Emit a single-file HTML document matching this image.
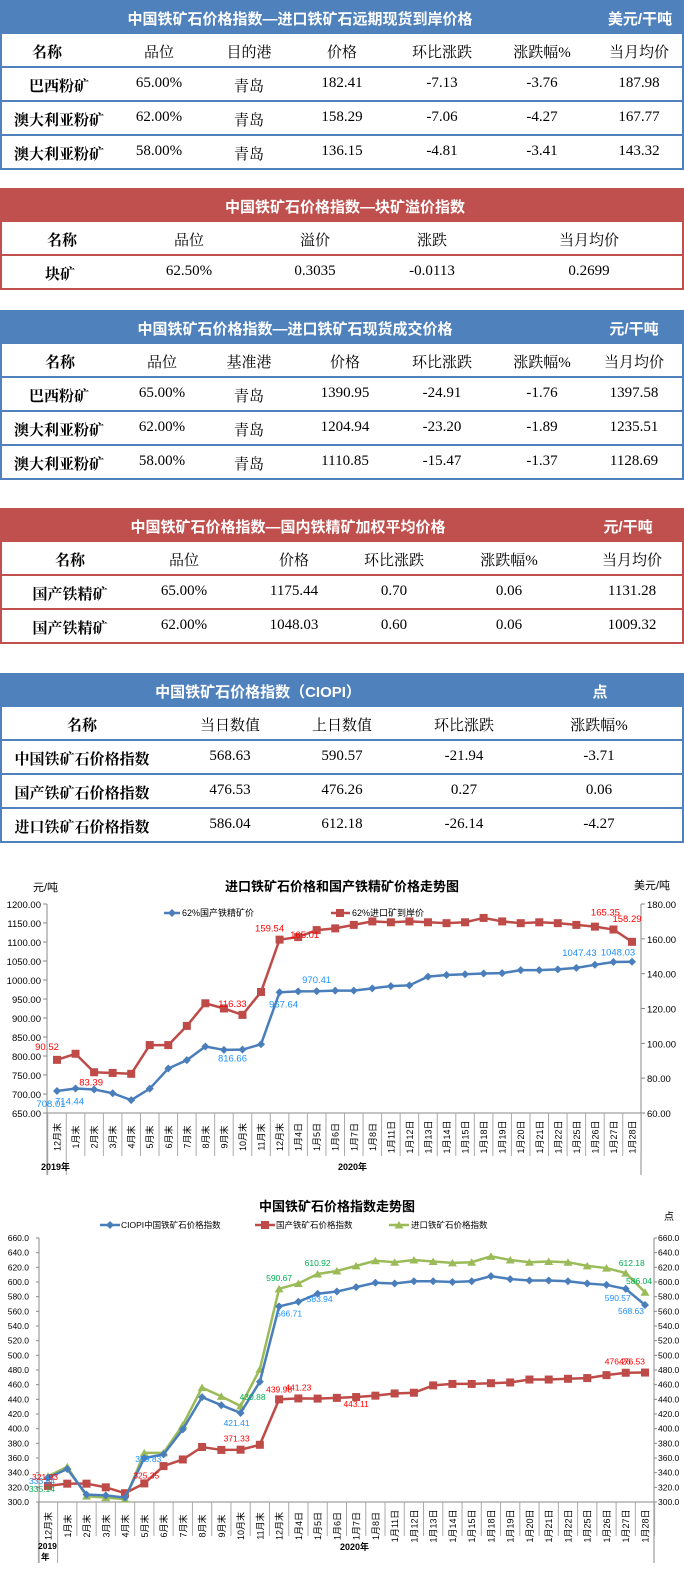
<!DOCTYPE html>
<html><head><meta charset="utf-8">
<style>
body{margin:0;width:684px;height:1573px;background:#fff;position:relative;overflow:hidden;font-family:"Liberation Serif","Noto Serif CJK SC",serif;}
.sec{position:absolute;left:0;width:684px;}
.bar{position:absolute;left:0;width:684px;height:34px;color:#fff;font-family:"Liberation Sans","Noto Sans CJK SC",sans-serif;font-weight:bold;font-size:15px;}
.blue{background:#4f81bd}.red{background:#c0504d}
.bar span{position:absolute;top:8px;white-space:nowrap;transform:translateX(-50%)}
.row{position:absolute;left:0;width:680px;height:32px;border-left:2px solid;border-right:2px solid;border-bottom:2px solid;}
.rb .row{border-color:#4f81bd}.rr .row{border-color:#c0504d}
.row span{position:absolute;top:7px;transform:translateX(-50%);white-space:nowrap;font-size:15px;color:#000}
.row span.n{font-weight:bold}
svg text{font-family:"Liberation Sans","Noto Sans CJK SC",sans-serif}
</style></head><body>

<!-- Table 1 -->
<div class="sec rb" style="top:0">
<div class="bar blue"><span style="left:300px">中国铁矿石价格指数—进口铁矿石远期现货到岸价格</span><span style="left:640px">美元/干吨</span></div>
<div class="row" style="top:34px"><span class="n" style="left:45px">名称</span><span style="left:157px">品位</span><span style="left:247px">目的港</span><span style="left:340px">价格</span><span style="left:440px">环比涨跌</span><span style="left:540px">涨跌幅%</span><span style="left:637px">当月均价</span></div>
<div class="row" style="top:68px"><span class="n" style="left:57px">巴西粉矿</span><span style="left:157px">65.00%</span><span style="left:247px">青岛</span><span style="left:340px">182.41</span><span style="left:440px">-7.13</span><span style="left:540px">-3.76</span><span style="left:637px">187.98</span></div>
<div class="row" style="top:102px"><span class="n" style="left:57px">澳大利亚粉矿</span><span style="left:157px">62.00%</span><span style="left:247px">青岛</span><span style="left:340px">158.29</span><span style="left:440px">-7.06</span><span style="left:540px">-4.27</span><span style="left:637px">167.77</span></div>
<div class="row" style="top:136px"><span class="n" style="left:57px">澳大利亚粉矿</span><span style="left:157px">58.00%</span><span style="left:247px">青岛</span><span style="left:340px">136.15</span><span style="left:440px">-4.81</span><span style="left:540px">-3.41</span><span style="left:637px">143.32</span></div>
</div>

<!-- Table 2 -->
<div class="sec rr" style="top:188px">
<div class="bar red"><span style="left:345px">中国铁矿石价格指数—块矿溢价指数</span></div>
<div class="row" style="top:34px"><span class="n" style="left:60px">名称</span><span style="left:187px">品位</span><span style="left:313px">溢价</span><span style="left:430px">涨跌</span><span style="left:587px">当月均价</span></div>
<div class="row" style="top:68px"><span class="n" style="left:58px">块矿</span><span style="left:187px">62.50%</span><span style="left:313px">0.3035</span><span style="left:430px">-0.0113</span><span style="left:587px">0.2699</span></div>
</div>

<!-- Table 3 -->
<div class="sec rb" style="top:310px">
<div class="bar blue"><span style="left:295px">中国铁矿石价格指数—进口铁矿石现货成交价格</span><span style="left:634px">元/干吨</span></div>
<div class="row" style="top:34px"><span class="n" style="left:58px">名称</span><span style="left:160px">品位</span><span style="left:247px">基准港</span><span style="left:343px">价格</span><span style="left:440px">环比涨跌</span><span style="left:540px">涨跌幅%</span><span style="left:632px">当月均价</span></div>
<div class="row" style="top:68px"><span class="n" style="left:57px">巴西粉矿</span><span style="left:160px">65.00%</span><span style="left:247px">青岛</span><span style="left:343px">1390.95</span><span style="left:440px">-24.91</span><span style="left:540px">-1.76</span><span style="left:632px">1397.58</span></div>
<div class="row" style="top:102px"><span class="n" style="left:57px">澳大利亚粉矿</span><span style="left:160px">62.00%</span><span style="left:247px">青岛</span><span style="left:343px">1204.94</span><span style="left:440px">-23.20</span><span style="left:540px">-1.89</span><span style="left:632px">1235.51</span></div>
<div class="row" style="top:136px"><span class="n" style="left:57px">澳大利亚粉矿</span><span style="left:160px">58.00%</span><span style="left:247px">青岛</span><span style="left:343px">1110.85</span><span style="left:440px">-15.47</span><span style="left:540px">-1.37</span><span style="left:632px">1128.69</span></div>
</div>

<!-- Table 4 -->
<div class="sec rr" style="top:508px">
<div class="bar red"><span style="left:288px">中国铁矿石价格指数—国内铁精矿加权平均价格</span><span style="left:628px">元/干吨</span></div>
<div class="row" style="top:34px"><span class="n" style="left:68px">名称</span><span style="left:182px">品位</span><span style="left:292px">价格</span><span style="left:392px">环比涨跌</span><span style="left:507px">涨跌幅%</span><span style="left:630px">当月均价</span></div>
<div class="row" style="top:68px"><span class="n" style="left:68px">国产铁精矿</span><span style="left:182px">65.00%</span><span style="left:292px">1175.44</span><span style="left:392px">0.70</span><span style="left:507px">0.06</span><span style="left:630px">1131.28</span></div>
<div class="row" style="top:102px"><span class="n" style="left:68px">国产铁精矿</span><span style="left:182px">62.00%</span><span style="left:292px">1048.03</span><span style="left:392px">0.60</span><span style="left:507px">0.06</span><span style="left:630px">1009.32</span></div>
</div>

<!-- Table 5 -->
<div class="sec rb" style="top:673px">
<div class="bar blue"><span style="left:258px">中国铁矿石价格指数（CIOPI）</span><span style="left:600px">点</span></div>
<div class="row" style="top:34px"><span class="n" style="left:80px">名称</span><span style="left:228px">当日数值</span><span style="left:340px">上日数值</span><span style="left:462px">环比涨跌</span><span style="left:597px">涨跌幅%</span></div>
<div class="row" style="top:68px"><span class="n" style="left:80px">中国铁矿石价格指数</span><span style="left:228px">568.63</span><span style="left:340px">590.57</span><span style="left:462px">-21.94</span><span style="left:597px">-3.71</span></div>
<div class="row" style="top:102px"><span class="n" style="left:80px">国产铁矿石价格指数</span><span style="left:228px">476.53</span><span style="left:340px">476.26</span><span style="left:462px">0.27</span><span style="left:597px">0.06</span></div>
<div class="row" style="top:136px"><span class="n" style="left:80px">进口铁矿石价格指数</span><span style="left:228px">586.04</span><span style="left:340px">612.18</span><span style="left:462px">-26.14</span><span style="left:597px">-4.27</span></div>
</div>

<svg id="c1" style="position:absolute;left:0;top:0" width="684" height="1573"></svg>

<script>
const categories=["12月末","1月末","2月末","3月末","4月末","5月末","6月末","7月末","8月末","9月末","10月末","11月末","12月末","1月4日","1月5日","1月6日","1月7日","1月8日","1月11日","1月12日","1月13日","1月14日","1月15日","1月18日","1月19日","1月20日","1月21日","1月22日","1月25日","1月26日","1月27日","1月28日"];
const domesticConcentrate=[708.01,714.44,712,702,684,714,767,789,825,816,816.66,831,967.64,970,970.41,972,972,978,984,986,1009,1013,1015,1017,1018,1026,1026,1028,1032,1040,1047.43,1048.03];
const importCif=[90.52,94,83.39,83,82.5,99,99,110,123,120,116.33,129.5,159.54,161,165.01,166,168,170,169.5,170,169.5,169,169.5,172,170,169,169.5,169,168,167,165.35,158.29];
const leftTicks1=[650,700,750,800,850,900,950,1000,1050,1100,1150,1200];
const rightTicks1=[60,80,100,120,140,160,180];
const ciopi=[333.04,345,310,309,306,359.83,365,399,443,432,421.41,464,566.71,573,583.94,587,593,599,598,601,601,600,601,608,604,602,602,601,598,596,590.57,568.63];
const domesticIndex=[321.93,325,325,320,312,325.35,349,358,375,371,371.33,378,439.98,441.23,441,442,443.11,445,448,449,459,461,461,462,463,467,467,468,469,473,476.26,476.53];
const importIndex=[335.14,348,308,306,304,367,367,405,456,444,430.88,481,590.67,598,610.92,615,622,629,627,630,628,626,627,635,630,627,628,627,622,619,612.18,586.04];
const ticks2=[300,320,340,360,380,400,420,440,460,480,500,520,540,560,580,600,620,640,660];

const NS="http://www.w3.org/2000/svg";
const svg=document.getElementById('c1');
function mk(tag,attrs,txt,name){const e=document.createElementNS(NS,tag);for(const k in attrs)e.setAttribute(k,attrs[k]);if(txt!==undefined)e.textContent=txt;


svg.appendChild(e);return e;}
function line(x1,y1,x2,y2,c,w,n){return mk('line',{x1,y1,x2,y2,stroke:c,'stroke-width':w},undefined,n);}
function text(x,y,t,o,n){const a=Object.assign({x,y,'font-size':10,fill:'#000'},o||{});return mk('text',a,t,n);}
function marker(type,x,y,c,n){
 if(type==='d')mk('polygon',{points:`${x},${y-4} ${x+4},${y} ${x},${y+4} ${x-4},${y}`,fill:c},undefined,n);
 else if(type==='s')mk('rect',{x:x-4,y:y-4,width:8,height:8,fill:c},undefined,n);
 else mk('polygon',{points:`${x},${y-4} ${x+4.5},${y+3.5} ${x-4.5},${y+3.5}`,fill:c},undefined,n);
}
function series(vals,xf,yf,c,type,name){
 mk('polyline',{points:vals.map((v,i)=>xf(i)+','+yf(v)).join(' '),fill:'none',stroke:c,'stroke-width':2.5},undefined,name+'-line');
 vals.forEach((v,i)=>marker(type,xf(i),yf(v),c,name+'-point'));
}
function catAxis(xf,step,axisY,labY,bottom,left,right){
 line(left,axisY,right,axisY,'#888',1,'x-axis');
 for(let i=0;i<=categories.length;i++){const x=xf(i)-step/2;line(x,axisY,x,(i===0||i===1)?bottom:labY+3,'#aaa',1,'category-separator');}
 categories.forEach((c,i)=>{const x=xf(i)+3.5,y=axisY+24;text(x,y,c,{'font-size':9,'text-anchor':'middle',transform:`rotate(-90 ${x} ${y})`},'x-tick-label');});
}

/* Chart 1 */
(function(){
 const x0=57,x1=632,top=904,bot=1113,L=47,R=641;
 const step=(x1-x0)/(categories.length-1);
 const xf=i=>x0+i*step;
 const yl=v=>bot-(v-650)/(1200-650)*(bot-top);
 const yr=v=>bot-(v-60)/(180-60)*(bot-top);
 text(342,891,'进口铁矿石价格和国产铁精矿价格走势图',{'font-size':13,'font-weight':'bold','text-anchor':'middle'},'chart1-title');
 text(33,891,'元/吨',{'font-size':11},'chart1-left-unit');
 text(634,889,'美元/吨',{'font-size':11},'chart1-right-unit');
 line(164,913,180,913,'#4a7ebb',2.5,'legend-blue-line');marker('d',172,913,'#4a7ebb','legend-blue-marker');
 text(182,916,'62%国产铁精矿价',{'font-size':9},'legend-domestic-concentrate');
 line(331,913,350,913,'#be4b48',2.5,'legend-red-line');marker('s',340,913,'#be4b48','legend-red-marker');
 text(352,916,'62%进口矿到岸价',{'font-size':9},'legend-import-cif');
 line(L,top,L,1175,'#888',1,'left-y-axis');line(R,top,R,1175,'#888',1,'right-y-axis');
 leftTicks1.forEach(t=>{line(L-4,yl(t),L,yl(t),'#888',1,'left-tick');text(L-6,yl(t)+4,t.toFixed(2),{'font-size':9.5,'text-anchor':'end'},'left-tick-label');});
 rightTicks1.forEach(t=>{line(R,yr(t),R+4,yr(t),'#888',1,'right-tick');text(R+6,yr(t)+4,t.toFixed(2),{'font-size':9.5},'right-tick-label');});
 catAxis(xf,step,bot,1153,1175,L,R);
 text(41,1170,'2019年',{'font-size':9,'font-weight':'bold'},'year-2019');
 text(338,1170,'2020年',{'font-size':9,'font-weight':'bold'},'year-2020');
 series(importCif,xf,yr,'#be4b48','s','import-cif');
 series(domesticConcentrate,xf,yl,'#4a7ebb','d','domestic-concentrate');
 const redLab=[[0,-10,-10],[2,-3,13],[10,-10,-8],[12,-10,-8],[14,-12,8],[30,-8,-14],[31,-5,-20]];
 redLab.forEach(([i,dx,dy])=>text(xf(i)+dx,yr(importCif[i])+dy,importCif[i].toFixed(2),{'font-size':9.5,fill:'#f00','text-anchor':'middle'},'red-value-label'));
 const blueLab=[[0,-6,16],[1,-6,16],[10,-10,12],[12,4,15],[14,0,-8],[30,-34,-6],[31,-14,-6]];
 blueLab.forEach(([i,dx,dy])=>text(xf(i)+dx,yl(domesticConcentrate[i])+dy,domesticConcentrate[i].toFixed(2),{'font-size':9.5,fill:'#1e90ff','text-anchor':'middle'},'blue-value-label'));
})();

/* Chart 2 */
(function(){
 const x0=48,x1=645,top=1238,bot=1502,L=39,R=654;
 const step=(x1-x0)/(categories.length-1);
 const xf=i=>x0+i*step;
 const yf=v=>bot-(v-300)/(660-300)*(bot-top);
 text(337,1211,'中国铁矿石价格指数走势图',{'font-size':13,'font-weight':'bold','text-anchor':'middle'},'chart2-title');
 text(664,1220,'点',{'font-size':10},'chart2-unit');
 line(100,1225,120,1225,'#4a7ebb',2.5,'legend-ciopi-line');marker('d',110,1225,'#4a7ebb','legend-ciopi-marker');
 text(121,1228,'CIOPI中国铁矿石价格指数',{'font-size':8.5},'legend-ciopi');
 line(255,1225,275,1225,'#be4b48',2.5,'legend-domestic-line');marker('s',265,1225,'#be4b48','legend-domestic-marker');
 text(276,1228,'国产铁矿石价格指数',{'font-size':8.5},'legend-domestic-index');
 line(389,1225,409,1225,'#9bbb59',2.5,'legend-import-line');marker('t',399,1225,'#9bbb59','legend-import-marker');
 text(411,1228,'进口铁矿石价格指数',{'font-size':8.5},'legend-import-index');
 line(L,top,L,1563,'#888',1,'left-y-axis');line(R,top,R,1563,'#888',1,'right-y-axis');
 ticks2.forEach(t=>{line(L-3,yf(t),L,yf(t),'#888',1,'left-tick');text(L-10,yf(t)+3,t.toFixed(1),{'font-size':8.5,'text-anchor':'end'},'left-tick-label');
  line(R,yf(t),R+3,yf(t),'#888',1,'right-tick');text(R+4,yf(t)+3,t.toFixed(1),{'font-size':8.5},'right-tick-label');});
 catAxis(xf,step,bot,1533,1563,L,R);
 text(38,1549,'2019',{'font-size':8.5,'font-weight':'bold'},'year-2019');text(41,1560,'年',{'font-size':8.5,'font-weight':'bold'},'year-2019-suffix');
 text(340,1550,'2020年',{'font-size':9,'font-weight':'bold'},'year-2020');
 series(domesticIndex,xf,yf,'#be4b48','s','domestic-index');
 series(importIndex,xf,yf,'#9bbb59','t','import-index');
 series(ciopi,xf,yf,'#4a7ebb','d','ciopi');
 const gl=[[0,-6,16],[10,12,-6],[12,0,-8],[14,0,-8],[30,6,-7],[31,-6,-8]];
 gl.forEach(([i,dx,dy])=>text(xf(i)+dx,yf(importIndex[i])+dy,importIndex[i].toFixed(2),{'font-size':8.5,fill:'#00b050','text-anchor':'middle'},'import-value-label'));
 const bl=[[0,-6,6],[5,4,4],[10,-4,13],[12,10,10],[14,2,8],[30,-8,12],[31,-14,9]];
 bl.forEach(([i,dx,dy])=>text(xf(i)+dx,yf(ciopi[i])+dy,ciopi[i].toFixed(2),{'font-size':8.5,fill:'#1e90ff','text-anchor':'middle'},'ciopi-value-label'));
 const rl=[[0,-3,-6],[5,2,-5],[10,-4,-8],[12,0,-7],[13,0,-8],[16,0,10],[30,-8,-8],[31,-13,-8]];
 rl.forEach(([i,dx,dy])=>text(xf(i)+dx,yf(domesticIndex[i])+dy,domesticIndex[i].toFixed(2),{'font-size':8.5,fill:'#f00','text-anchor':'middle'},'domestic-value-label'));
})();
</script>
</body></html>
